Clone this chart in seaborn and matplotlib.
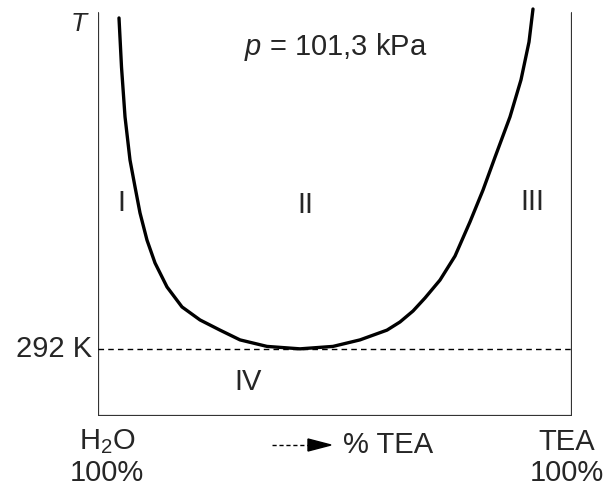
import matplotlib
matplotlib.use('Agg')
import matplotlib.pyplot as plt
from matplotlib.patches import Polygon
import seaborn as sns
import pandas as pd

# solubility curve water / triethylamine
# x = % TEA (0..100), y = T in arbitrary units (292 K line at 16.5)
pct_tea = [4.43, 4.96, 5.70, 6.75, 7.81, 8.86, 10.34, 12.03, 14.56, 17.72,
           21.52, 25.74, 29.96, 35.65, 42.62, 49.58, 55.27, 60.97, 63.71,
           66.46, 68.99, 72.15, 75.32, 78.48, 81.22, 83.76, 86.92, 89.24,
           90.93, 91.77]
temp = [97.8, 85.7, 73.5, 62.9, 56.3, 49.9, 43.2, 37.6, 31.7, 26.8,
        23.6, 21.1, 18.7, 17.1, 16.5, 17.1, 18.7, 21.1, 23.1,
        25.8, 29.0, 33.4, 39.3, 47.7, 55.5, 63.6, 73.5, 82.6,
        91.9, 100.0]
t_lcst = 16.5
lcst_label = '292 K'
regions = ['I', 'II', 'III', 'IV']
region_x = [5.0, 43.7, 91.6, 31.6]
region_y = [52.3, 51.8, 52.6, 8.4]

df = pd.DataFrame({'pct': pct_tea, 'T': temp})

sns.set_style('white')
plt.rcParams['font.family'] = ['Liberation Sans', 'DejaVu Sans']
plt.rcParams['mathtext.fontset'] = 'custom'
plt.rcParams['mathtext.rm'] = 'Liberation Sans'
plt.rcParams['mathtext.it'] = 'Liberation Sans:italic'

W, H = 614, 493
fig = plt.figure(figsize=(W / 100, H / 100), dpi=100)
ax = fig.add_axes([98 / W, 77 / H, 474 / W, 407 / H])

sns.lineplot(data=df, x='pct', y='T', sort=False, estimator=None,
             color='black', lw=2.4, ax=ax, clip_on=False)

ax.set_xlim(0, 100)
ax.set_ylim(0, 100)
for s in ax.spines.values():
    s.set_visible(False)
ax.set_xticks([])
ax.set_yticks([])
ax.set_xlabel('')
ax.set_ylabel('')

# frame: left, right, bottom (no top)
ax.axvline(0, ymin=0, ymax=0.99, color='#333333', lw=1.6)
ax.axvline(100, ymin=0, ymax=0.99, color='#333333', lw=1.6)
ax.axhline(0, color='#333333', lw=1.6)

# 292 K dashed line
ax.axhline(t_lcst, color='black', lw=1.0, ls=(0, (4, 3)))
ax.text(-1.3, t_lcst, lcst_label, ha='right', va='center', fontsize=21)

for lab, x, y in zip(regions, region_x, region_y):
    ax.text(x, y, lab, ha='center', va='center', fontsize=21)

ax.text(50.2, 90.7, '$p$ = 101,3 kPa', ha='center', va='center', fontsize=21)
fig.text(80 / W, 1 - 24 / H, '$T$', ha='center', va='center', fontsize=19)

# bottom labels
fig.text(107 / W, 1 - 442 / H, 'H$_2$O', ha='center', va='center', fontsize=21)
fig.text(107 / W, 1 - 473 / H, '100%', ha='center', va='center', fontsize=21)
fig.text(567 / W, 1 - 442 / H, 'TEA', ha='center', va='center', fontsize=21)
fig.text(567 / W, 1 - 473 / H, '100%', ha='center', va='center', fontsize=21)

# dashed arrow before "% TEA"
fig.lines.append(plt.Line2D([272 / W, 309 / W], [1 - 445 / H] * 2,
                            transform=fig.transFigure, color='black', lw=1.0,
                            ls=(0, (3, 2))))
fig.patches.append(Polygon([[308 / W, 1 - 439 / H], [331 / W, 1 - 445 / H],
                            [308 / W, 1 - 451 / H]], closed=True,
                           transform=fig.transFigure, color='black'))
fig.text(343 / W, 1 - 445 / H, '% TEA', ha='left', va='center', fontsize=21)

fig.savefig('out.png', dpi=100)
